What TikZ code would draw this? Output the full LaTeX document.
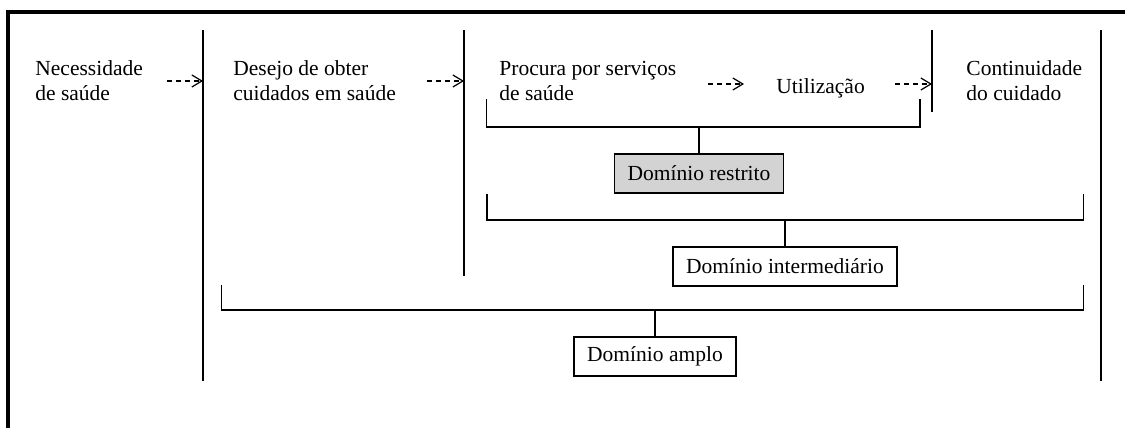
\documentclass[tikz,border=0pt]{standalone}
\usepackage{fontspec}
\setmainfont{Liberation Serif}
\usetikzlibrary{arrows.meta,positioning,calc}
\definecolor{boxgray}{HTML}{D3D3D3}

\begin{document}
\begin{tikzpicture}[x=0.5pt,y=-0.5pt,
  every node/.style={font=\fontsize{10.75}{12.5}\selectfont},
  stage/.style={anchor=base west, align=left, inner sep=0pt},
  dombox/.style={draw, line width=0.75pt, inner xsep=6.5pt, minimum height=19.5pt, anchor=north},
  flow/.style={dash pattern=on 2.5pt off 2pt, -{Straight Barb[length=5pt,width=6pt]}, line width=0.6pt},
  rule/.style={line width=0.85pt},
  brace/.style={line width=0.8pt}]
\useasboundingbox (0,0) rectangle (1125,428);
% outer frame (top and left only)
\draw[line width=2pt] (7.5,430) -- (7.5,11.5) -- (1127,11.5);

% stages of access
\node[stage] (need) at (35,100) {Necessidade\\de saúde};
\node[stage] (wish) at (233,100) {Desejo de obter\\cuidados em saúde};
\node[stage] (seek) at (499,100) {Procura por serviços\\de saúde};
\node[stage] (use) at (776,93) {Utilização};
\node[stage] (cont) at (966,100) {Continuidade\\do cuidado};

% separators
\draw[rule] (203,30) -- (203,381);
\draw[rule] (464,30) -- (464,276);
\draw[rule] (932,30) -- (932,112);
\draw[rule] (1101,30) -- (1101,381);

% dashed arrows between stages
\draw[flow] (167,81) -- (203,81);
\draw[flow] (427,81) -- (464,81);
\draw[flow] (708,84) -- (744,84);
\draw[flow] (895,84) -- (932,84);

% domains
\node[dombox, fill=boxgray] (narrow) at (699,153) {Domínio restrito};
\node[dombox] (mid) at (785,246) {Domínio intermediário};
\node[dombox] (wide) at (655,336) {Domínio amplo};

% brackets
\draw[brace] (486.5,99) -- (486.5,127) -- (920,127) -- (920,99);
\draw[brace] (narrow.north) -- (narrow.north |- 0,127);
\draw[brace] (487,194) -- (487,220) -- (1083.5,220) -- (1083.5,194);
\draw[brace] (mid.north) -- (mid.north |- 0,220);
\draw[brace] (221.6,285) -- (221.6,310) -- (1083.5,310) -- (1083.5,285);
\draw[brace] (wide.north) -- (wide.north |- 0,310);
\end{tikzpicture}
\end{document}
